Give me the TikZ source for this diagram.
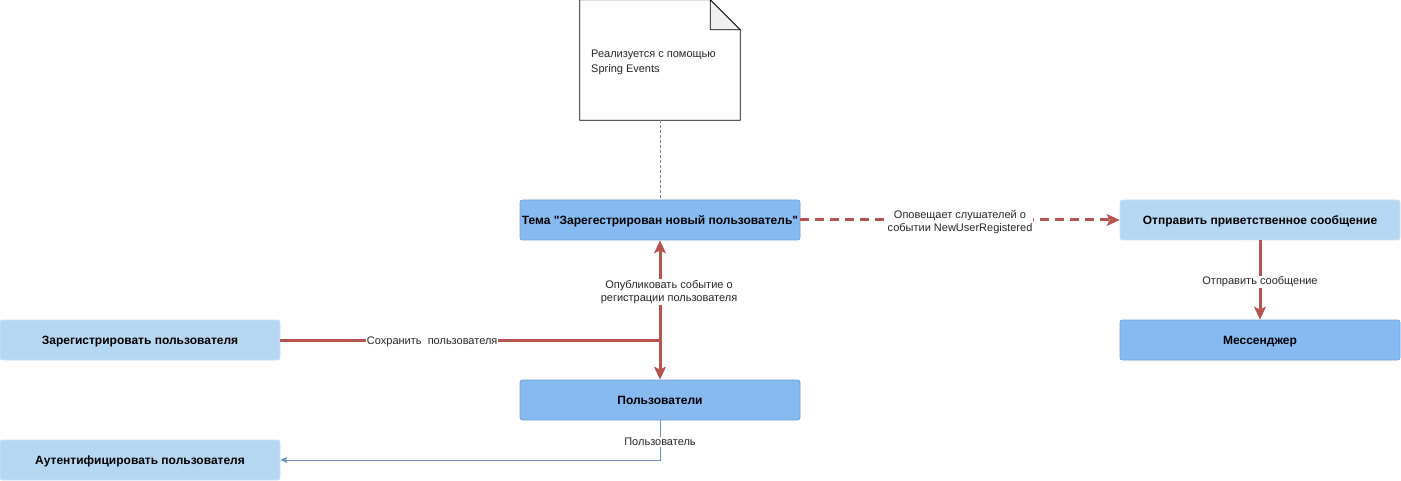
\documentclass[tikz,border=0pt]{standalone}
\usepackage{fontspec}
\setmainfont{Liberation Sans}[Ligatures=TeXOff]
\usetikzlibrary{arrows.meta}

\definecolor{darkfill}{HTML}{86BAF0}
\definecolor{darkline}{HTML}{6C9FD8}
\definecolor{lightfill}{HTML}{B6D7F2}
\definecolor{lightline}{HTML}{C6E0F5}
\definecolor{redline}{HTML}{B85450}
\definecolor{blueline}{HTML}{6C8EBF}
\definecolor{foldfill}{HTML}{F0F0F0}

\tikzset{
  box/.style={rounded corners=2.5pt, minimum width=280pt, minimum height=40pt,
    inner sep=0pt, line width=0.7pt, text height=9.5pt, text depth=0pt,
    font=\fontsize{12}{14}\selectfont\bfseries},
  darkbox/.style={box, fill=darkfill, draw=darkline},
  lightbox/.style={box, fill=lightfill, draw=lightline},
  redflow/.style={draw=redline, line width=3pt,
    -{Stealth[length=13pt, width=12pt, inset=3pt]}},
  blueflow/.style={draw=blueline, line width=0.8pt,
    -{Stealth[length=7pt, width=6pt, inset=1.5pt]}},
  lbl/.style={font=\fontsize{11}{13}\selectfont, fill=white, inner sep=1pt,
    align=center, text=black!85, yshift=-2pt},
}

\begin{document}
\begin{tikzpicture}[x=1pt, y=-1pt]
  \useasboundingbox (0,0) rectangle (1401,481);

  % Note on the topic
  \node (note) [minimum width=160pt, minimum height=120pt, inner sep=0pt] at (660,60) {};
  \draw [line width=0.7pt, fill=white] (note.north west) -- ([xshift=-30pt]note.north east)
    -- ([yshift=-30pt]note.north east) -- (note.south east) -- (note.south west) -- cycle;
  \draw [line width=0.7pt, fill=foldfill] ([xshift=-30pt]note.north east)
    -- ([xshift=-30pt, yshift=-30pt]note.north east) -- ([yshift=-30pt]note.north east) -- cycle;
  \node (notetext) [anchor=west, align=left, inner sep=0pt,
    font=\fontsize{11}{15}\selectfont, text=black!85] at (591,62)
    {Реализуется с помощью\\Spring Events};

  % Boxes
  \node (topic) [darkbox] at (660,220) {Тема "Зарегестрирован новый пользователь"};
  \node (welcome) [lightbox] at (1260,220) {Отправить приветственное сообщение};
  \node (messenger) [darkbox] at (1260,340) {Мессенджер};
  \node (register) [lightbox] at (140,340) {Зарегистрировать пользователя};
  \node (users) [darkbox] at (660,400) {Пользователи};
  \node (auth) [lightbox] at (140,460) {Аутентифицировать пользователя};

  % Note link
  \draw [draw=gray, line width=0.5pt, dash pattern=on 3pt off 2pt] (note.south) -- (topic.north);

  % Register -> topic, register -> users
  \draw [redflow] (register.east) -| node [lbl, pos=0.75, xshift=9pt]
    {Опубликовать событие о\\регистрации пользователя} (topic.south);
  \draw [redflow] (register.east) -| node [lbl, pos=0.2] {Сохранить\ \ пользователя} (users.north);

  % Topic -> welcome
  \draw [redflow, dash pattern=on 9pt off 6pt] (topic.east) -- node [lbl]
    {Оповещает слушателей о\\событии NewUserRegistered} (welcome.west);

  % Welcome -> messenger
  \draw [redflow] (welcome.south) -- node [lbl] {Отправить сообщение} (messenger.north);

  % Users -> auth
  \draw [blueflow] (users.south) |- node [lbl, pos=0.25] {Пользователь} (auth.east);
\end{tikzpicture}
\end{document}
